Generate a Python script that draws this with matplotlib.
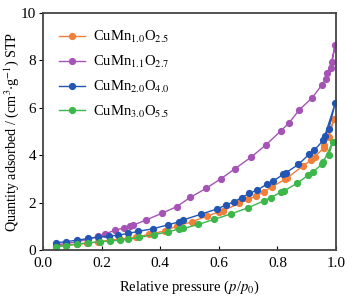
import matplotlib.pyplot as plt

plt.rcParams['font.family'] = ['Liberation Serif', 'DejaVu Serif']
plt.rcParams['mathtext.fontset'] = 'stix'

# CuMn1.0O2.5 (orange)
x_10 = [0.044, 0.077, 0.117, 0.151, 0.189, 0.229, 0.263, 0.291, 0.317, 0.36, 0.416, 0.456,
        0.507, 0.559, 0.602, 0.613, 0.670, 0.701, 0.727, 0.754, 0.781, 0.826, 0.834,
        0.886, 0.915, 0.928, 0.959, 0.993, 0.975, 0.96]
y_10 = [0.18, 0.21, 0.25, 0.28, 0.35, 0.42, 0.46, 0.50, 0.54, 0.66, 0.81, 1.01,
        1.19, 1.43, 1.62, 1.66, 1.97, 2.14, 2.28, 2.46, 2.67, 2.98, 3.05,
        3.54, 3.80, 3.94, 4.32, 5.53, 4.75, 4.45]

# CuMn1.1O2.7 (purple)
x_11 = [0.044, 0.077, 0.117, 0.155, 0.189, 0.212, 0.246, 0.276, 0.295, 0.308, 0.352, 0.405,
        0.456, 0.502, 0.556, 0.606, 0.655, 0.709, 0.760, 0.812, 0.840, 0.874, 0.919,
        0.951, 0.965, 0.982, 0.997, 0.985, 0.97]
y_11 = [0.22, 0.27, 0.35, 0.46, 0.59, 0.68, 0.84, 0.94, 1.01, 1.05, 1.27, 1.55,
        1.83, 2.22, 2.60, 3.00, 3.43, 3.91, 4.43, 5.03, 5.37, 5.91, 6.43,
        6.96, 7.20, 7.69, 8.65, 7.95, 7.45]

# CuMn2.0O4.0 (blue)
x_20 = [0.044, 0.077, 0.117, 0.155, 0.189, 0.226, 0.257, 0.291, 0.325, 0.376, 0.428, 0.464,
        0.479, 0.538, 0.593, 0.625, 0.652, 0.678, 0.704, 0.731, 0.763, 0.784, 0.820,
        0.829, 0.871, 0.909, 0.926, 0.957, 0.997, 0.975, 0.962]
y_20 = [0.31, 0.35, 0.42, 0.49, 0.54, 0.59, 0.63, 0.70, 0.79, 0.90, 1.07, 1.19,
        1.27, 1.51, 1.73, 1.90, 2.04, 2.21, 2.39, 2.53, 2.77, 2.91, 3.19,
        3.26, 3.61, 4.05, 4.22, 4.64, 6.19, 5.1, 4.81]

# CuMn3.0O5.5 (green)
x_30 = [0.044, 0.077, 0.117, 0.155, 0.195, 0.229, 0.263, 0.291, 0.329, 0.379, 0.428, 0.464,
        0.479, 0.530, 0.585, 0.640, 0.699, 0.755, 0.777, 0.812, 0.823, 0.866, 0.905,
        0.920, 0.951, 0.957, 0.989, 0.975]
y_30 = [0.14, 0.18, 0.25, 0.31, 0.35, 0.38, 0.42, 0.45, 0.54, 0.65, 0.77, 0.89,
        0.91, 1.08, 1.30, 1.52, 1.78, 2.08, 2.21, 2.45, 2.50, 2.81, 3.16,
        3.28, 3.61, 3.73, 4.57, 4.0]

series = [
    (x_10, y_10, '#f07f3a', r'CuMn$_{1.0}$O$_{2.5}$'),
    (x_11, y_11, '#a553b5', r'CuMn$_{1.1}$O$_{2.7}$'),
    (x_20, y_20, '#2356b3', r'CuMn$_{2.0}$O$_{4.0}$'),
    (x_30, y_30, '#3db64a', r'CuMn$_{3.0}$O$_{5.5}$'),
]

fig = plt.figure(figsize=(3.56, 3.02), dpi=100)
ax = fig.add_axes([0.121, 0.172, 0.823, 0.785])

for x, y, c, lab in series:
    ax.plot(x, y, '-o', color=c, lw=1.0, ms=4.2, label=lab)

ax.set_xlim(0, 1.0)
ax.set_ylim(0, 10)
ax.set_xticks([0.0, 0.2, 0.4, 0.6, 0.8, 1.0])
ax.set_yticks([0, 2, 4, 6, 8, 10])
ax.tick_params(axis='x', direction='in', length=3, labelsize=11, pad=5)
ax.tick_params(axis='y', direction='out', length=3, labelsize=11, pad=2)
for s in ax.spines.values():
    s.set_color('#444444')
    s.set_linewidth(1.3)

ax.set_xlabel(r'Relative pressure ($p$/$p_0$)', fontsize=10.5, labelpad=6)
ax.set_ylabel(r'Quantity adsorbed / (cm$^3$$\cdot$g$^{-1}$) STP', fontsize=10.2, labelpad=0)

ax.legend(loc='upper left', frameon=False, fontsize=10.5, handlelength=1.8,
          borderaxespad=0.7, labelspacing=0.6, handletextpad=0.5)

fig.savefig('out.png', dpi=100)
